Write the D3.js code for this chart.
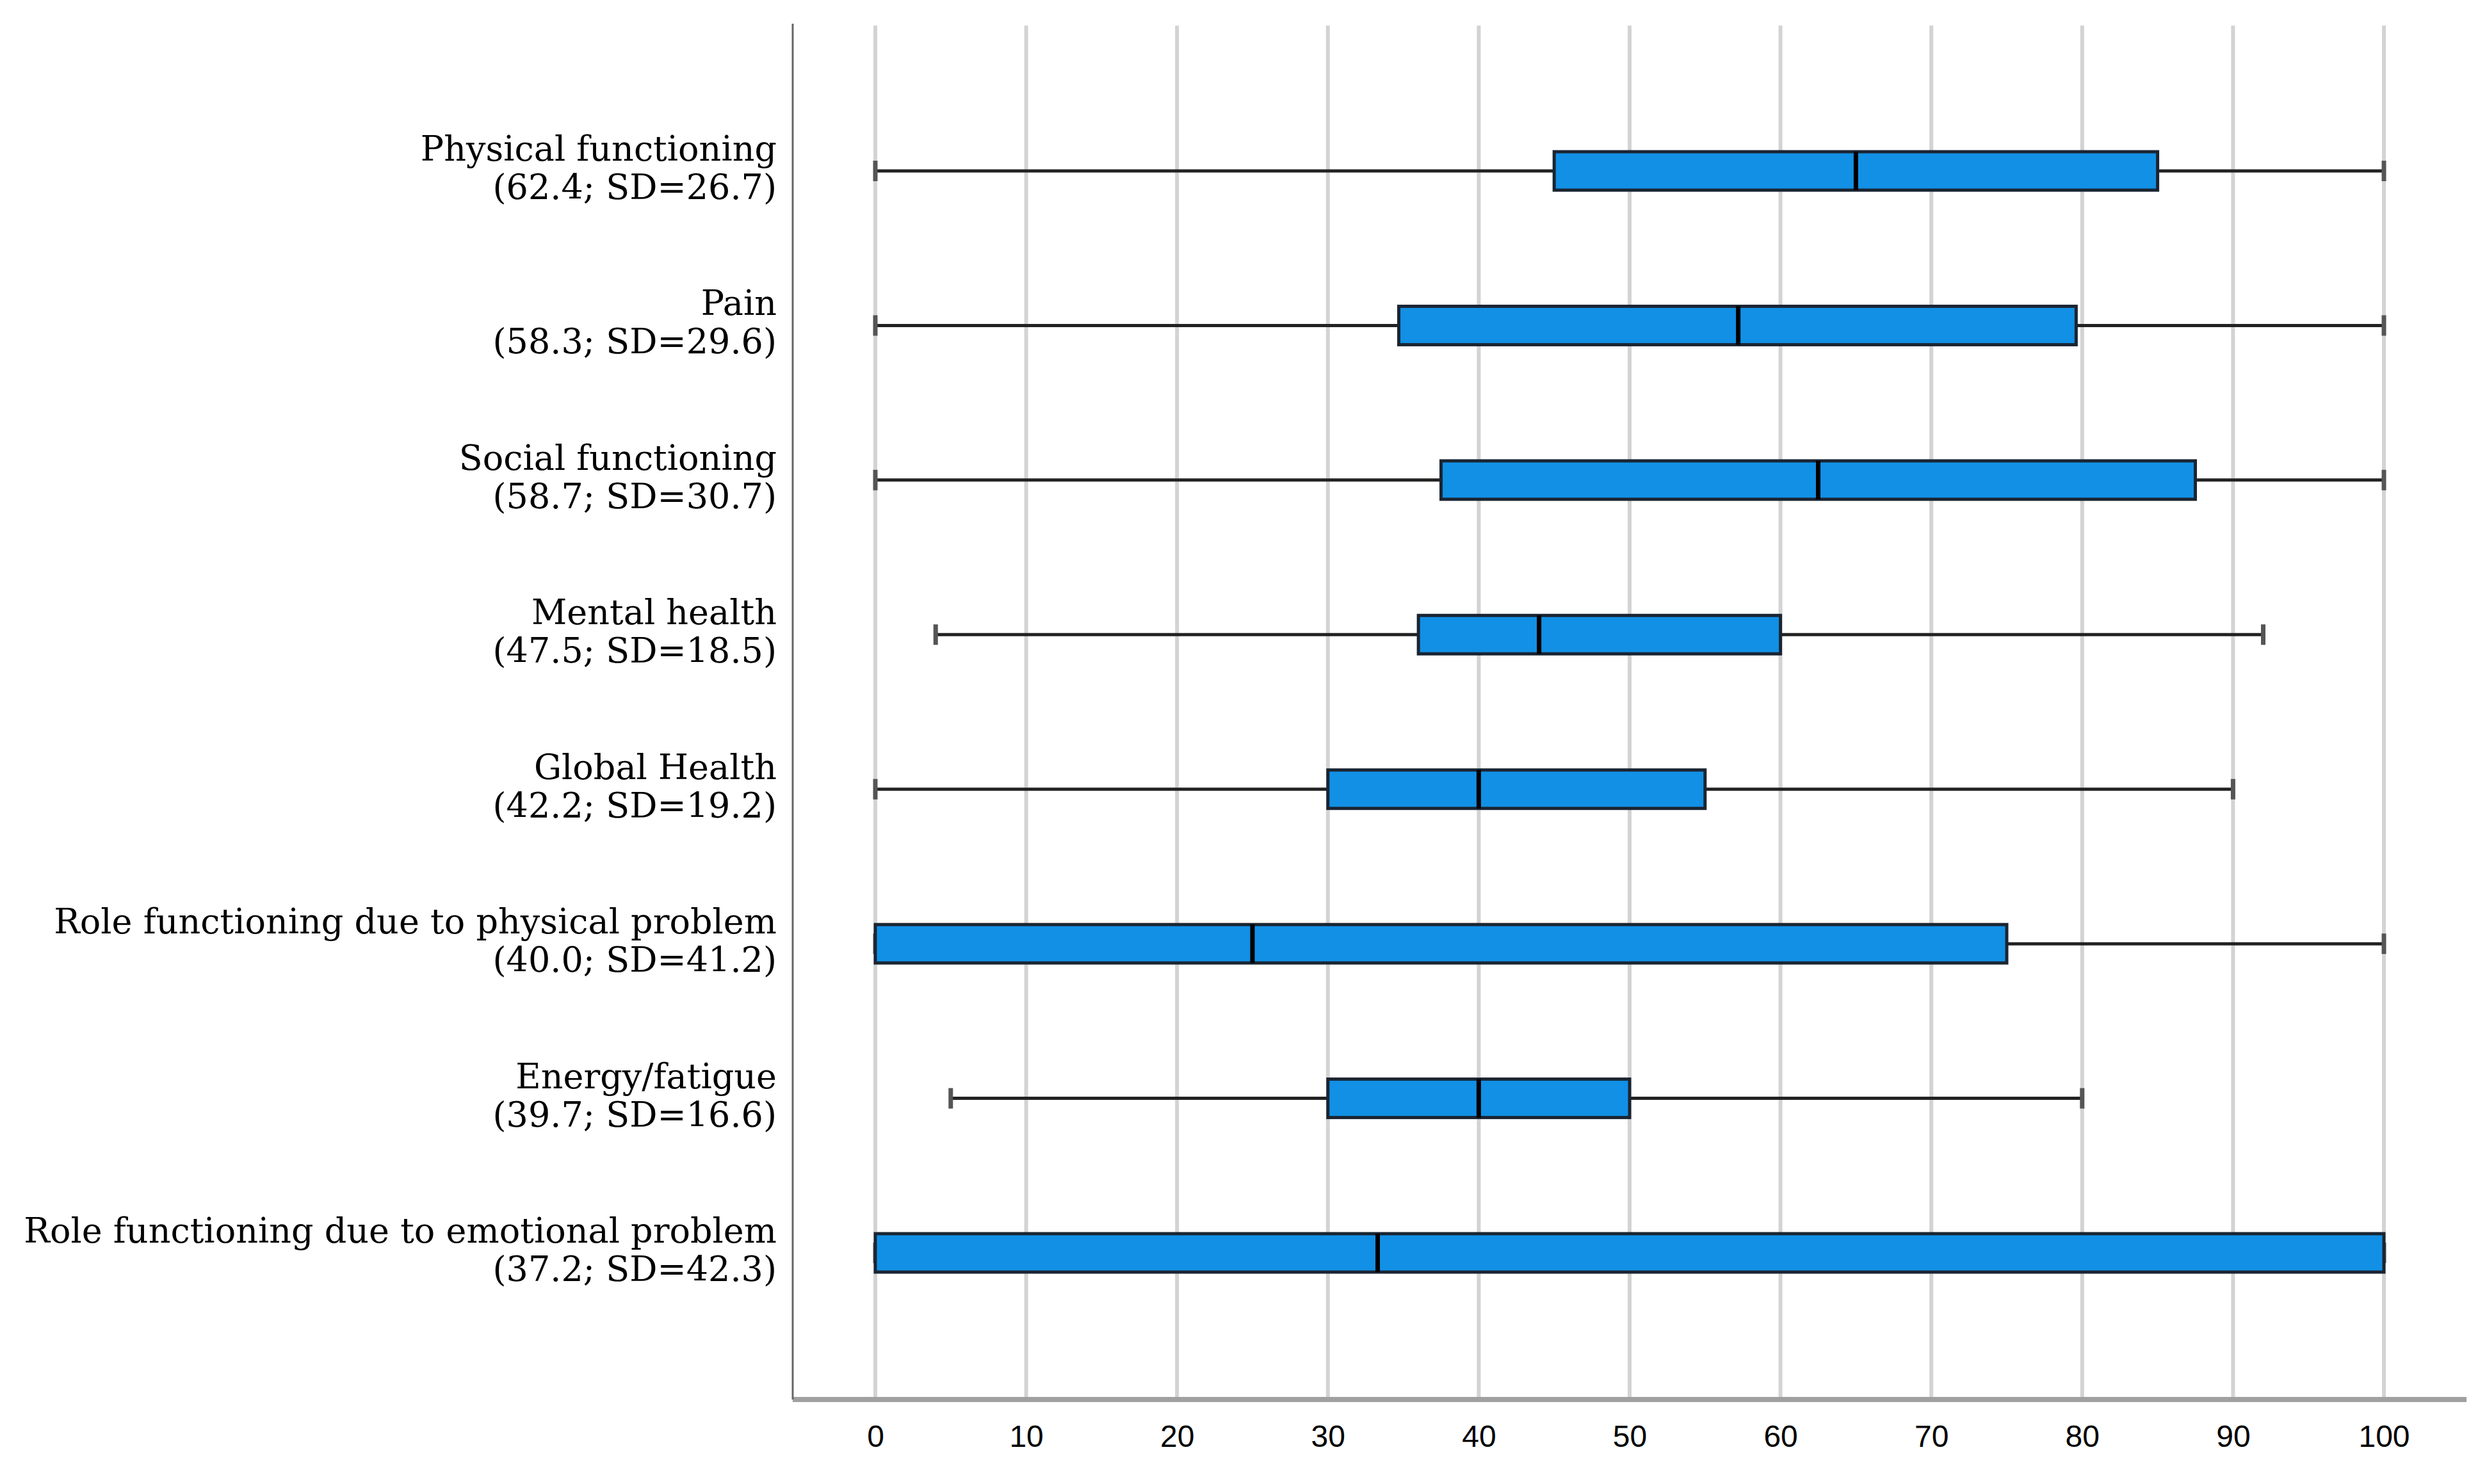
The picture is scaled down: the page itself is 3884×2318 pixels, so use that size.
<!DOCTYPE html>
<html>
<head>
<meta charset="utf-8">
<script src="https://cdn.jsdelivr.net/npm/d3@7"></script>
<style>
  html, body { margin: 0; padding: 0; background: #ffffff; }
  svg { display: block; }
</style>
</head>
<body>
<svg id="chart" width="3884" height="2318"></svg>
<script>
// ---- Data ----
const categories = [
  "Physical functioning",
  "Pain",
  "Social functioning",
  "Mental health",
  "Global Health",
  "Role functioning due to physical problem",
  "Energy/fatigue",
  "Role functioning due to emotional problem"
];
const subLabels = [
  "(62.4; SD=26.7)",
  "(58.3; SD=29.6)",
  "(58.7; SD=30.7)",
  "(47.5; SD=18.5)",
  "(42.2; SD=19.2)",
  "(40.0; SD=41.2)",
  "(39.7; SD=16.6)",
  "(37.2; SD=42.3)"
];
const whiskerLow  = [0,    0,    0,    4,  0,  0,  5,  0];
const q1          = [45,   34.7, 37.5, 36, 30, 0,  30, 0];
const medians     = [65,   57.2, 62.5, 44, 40, 25, 40, 33.3];
const q3          = [85,   79.6, 87.5, 60, 55, 75, 50, 100];
const whiskerHigh = [100,  100,  100,  92, 90, 100, 80, 100];
const xTicks = [0, 10, 20, 30, 40, 50, 60, 70, 80, 90, 100];

const rows = categories.map((c, i) => ({
  cat: c, sub: subLabels[i],
  lo: whiskerLow[i], q1: q1[i], med: medians[i], q3: q3[i], hi: whiskerHigh[i]
}));

// ---- Layout ----
const svg = d3.select("#chart");
const axisX = 1238, plotTop = 37, axisY = 2186, axisRight = 3852;

const x = d3.scaleLinear().domain([0, 100]).range([1367, 3723]);
const y = d3.scalePoint().domain(categories).range([267, 1957]);
const boxH = 60, capH = 32;

// gridlines
svg.append("g").selectAll("line").data(xTicks).join("line")
  .attr("x1", d => x(d)).attr("x2", d => x(d))
  .attr("y1", 40).attr("y2", axisY - 4)
  .attr("stroke", "#d3d3d3").attr("stroke-width", 6);

// x axis
const xAxis = d3.axisBottom(x).tickValues(xTicks).tickSize(0).tickPadding(0);
const gx = svg.append("g").attr("transform", `translate(0,${axisY})`).call(xAxis);
gx.select(".domain").remove();
gx.selectAll("text")
  .attr("y", 74).attr("dy", null)
  .attr("font-family", "'Liberation Sans', Arial, sans-serif")
  .attr("font-size", 48).attr("fill", "#000");
svg.append("line")
  .attr("x1", axisX).attr("x2", axisRight)
  .attr("y1", axisY).attr("y2", axisY)
  .attr("stroke", "#a0a0a0").attr("stroke-width", 8);

// y axis line
svg.append("line")
  .attr("x1", axisX).attr("x2", axisX)
  .attr("y1", plotTop).attr("y2", axisY)
  .attr("stroke", "#666").attr("stroke-width", 3);

// boxes
const g = svg.append("g");
const rowG = g.selectAll("g.row").data(rows).join("g").attr("class", "row");

rowG.append("line")
  .attr("x1", d => x(d.lo)).attr("x2", d => x(d.hi))
  .attr("y1", d => y(d.cat)).attr("y2", d => y(d.cat))
  .attr("stroke", "#222").attr("stroke-width", 5);

rowG.selectAll("line.cap").data(d => [d.lo, d.hi].map(v => ({v, cat: d.cat}))).join("line")
  .attr("class", "cap")
  .attr("x1", d => x(d.v)).attr("x2", d => x(d.v))
  .attr("y1", d => y(d.cat) - capH / 2).attr("y2", d => y(d.cat) + capH / 2)
  .attr("stroke", "#555").attr("stroke-width", 7);

rowG.append("rect")
  .attr("x", d => x(d.q1)).attr("width", d => x(d.q3) - x(d.q1))
  .attr("y", d => y(d.cat) - boxH / 2).attr("height", boxH)
  .attr("fill", "#1190e5").attr("stroke", "#1a2532").attr("stroke-width", 5);

rowG.append("line")
  .attr("x1", d => x(d.med)).attr("x2", d => x(d.med))
  .attr("y1", d => y(d.cat) - boxH / 2).attr("y2", d => y(d.cat) + boxH / 2)
  .attr("stroke", "#000").attr("stroke-width", 7);

// labels
const labG = svg.append("g")
  .attr("font-family", "'DejaVu Serif', 'Liberation Serif', serif")
  .attr("font-size", 54).attr("fill", "#000").attr("text-anchor", "end");
const lab = labG.selectAll("text").data(rows).join("text")
  .attr("x", 1213).attr("y", d => y(d.cat) - 16);
lab.append("tspan").text(d => d.cat);
lab.append("tspan").attr("x", 1213).attr("dy", 60).text(d => d.sub);
</script>
</body>
</html>
